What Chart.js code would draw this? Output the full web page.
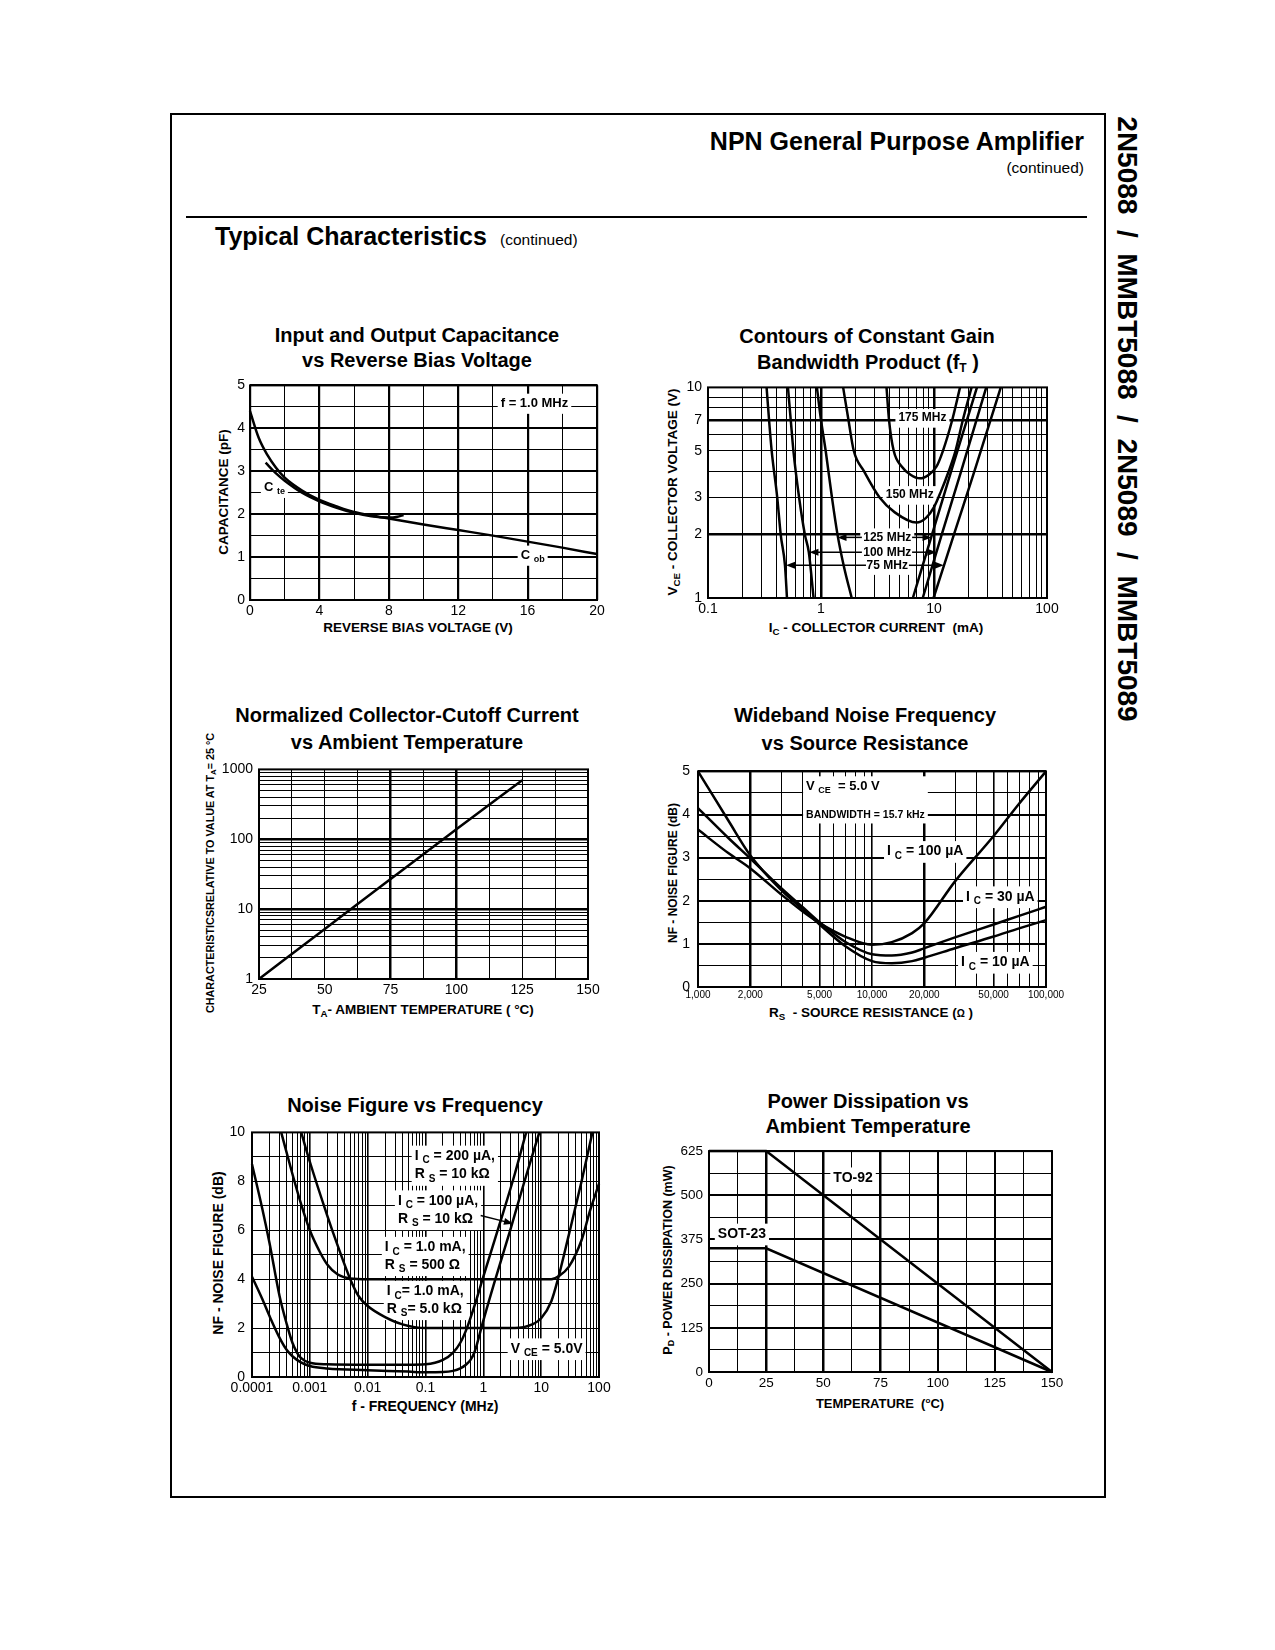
<!DOCTYPE html>
<html>
<head>
<meta charset="utf-8">
<title>2N5088 / MMBT5088 / 2N5089 / MMBT5089 - Typical Characteristics</title>
<script src="https://cdn.jsdelivr.net/npm/chart.js@4.4.1/dist/chart.umd.min.js"></script>
<style>
  html, body { margin: 0; padding: 0; background: #fff; }
  #page { position: relative; width: 1275px; height: 1650px; overflow: hidden;
          font-family: "Liberation Sans", Arial, Helvetica, sans-serif; color: #000; }
  .t { position: absolute; white-space: nowrap; line-height: 1; }
  .t sub { font-size: 0.72em; vertical-align: -0.28em; line-height: 0; }
  .t sup { font-size: 0.62em; vertical-align: 0.5em; line-height: 0; }
  canvas { position: absolute; }
</style>
</head>
<body>
<div id="page">
  <div style="position:absolute;left:170px;top:113px;width:936px;height:1385px;border:2px solid #000;box-sizing:border-box;"></div>
  <div style="position:absolute;left:186px;top:216px;width:901px;height:2px;background:#000;"></div>
</div>
<script>
// ---------------- DATA ----------------

// Input / output capacitance vs reverse bias voltage
const capXTicks = [0, 4, 8, 12, 16, 20];
const capYTicks = [0, 1, 2, 3, 4, 5];
const cobVolts = [0, 0.5, 1, 1.5, 2, 3, 4, 5, 6, 7, 8, 10, 12, 14, 16, 18, 20];
const cobPf    = [4.4, 3.78, 3.38, 3.08, 2.85, 2.55, 2.33, 2.18, 2.05, 1.97, 1.9, 1.76, 1.63, 1.5, 1.36, 1.22, 1.07];
const cteVolts = [0.9, 1.5, 2, 3, 4, 5, 6, 7, 8, 8.5, 8.85];
const ctePf    = [3.2, 2.95, 2.78, 2.5, 2.3, 2.15, 2.03, 1.95, 1.92, 1.94, 1.98];

// Contours of constant gain bandwidth product (Ic mA, Vce V)
const ftXTicks = [0.1, 1, 10, 100];
const ftYTicks = [1, 2, 3, 5, 7, 10];
const ft175Ic  = [3.8, 4.0, 4.4, 5.2, 6.2, 7.5, 9, 10.5, 12, 14.5, 17];
const ft175Vce = [10, 7, 5, 4.2, 3.85, 3.7, 3.85, 4.2, 5, 7, 10];
const ft150Ic  = [1.57, 1.75, 1.95, 2.4, 3.3, 4.5, 7.0, 8.5, 10, 11.5, 13.5, 15.5, 18, 21.5];
const ft150Vce = [10, 7, 5, 4, 3, 2.55, 2.28, 2.4, 2.7, 3.2, 4, 5, 7, 10];
const ft125LeftIc  = [0.92, 1.0, 1.1, 1.25, 1.4, 1.6, 1.87];
const ft125LeftVce = [10, 7, 5, 3, 2, 1.4, 1];
const ft100LeftIc  = [0.51, 0.54, 0.57, 0.64, 0.72, 0.78, 0.86];
const ft100LeftVce = [10, 7, 5, 3, 2, 1.65, 1];
const ft75LeftIc   = [0.33, 0.347, 0.366, 0.41, 0.44, 0.48, 0.5];
const ft75LeftVce  = [10, 7, 5, 3, 2, 1.43, 1];
const ft125RightIc  = [6.5, 9.6, 14.2, 24];
const ft100RightIc  = [7.95, 11.7, 17.4, 29];
const ft75RightIc   = [9.9, 15.0, 22.8, 39];
const ftRightVce    = [1, 2, 4, 10];

// Normalized collector-cutoff current vs ambient temperature
const icboXTicks = [25, 50, 75, 100, 125, 150];
const icboYTicks = [1, 10, 100, 1000];
const icboTemp   = [25, 50, 75, 100, 125];
const icboRatio  = [1, 5.2, 27, 139, 700];

// Wideband noise figure vs source resistance
const wbXTicks  = [1000, 2000, 5000, 10000, 20000, 50000, 100000];
const wbXLabels = ['1,000', '2,000', '5,000', '10,000', '20,000', '50,000', '100,000'];
const wbYTicks  = [0, 1, 2, 3, 4, 5];
const wbRs      = [1000, 1500, 2000, 3000, 4000, 5000, 7000, 10000, 13000, 17000, 20000, 30000, 50000, 70000, 100000];
const wbNf10uA  = [5.0, 3.85, 3.05, 2.25, 1.8, 1.45, 0.95, 0.6, 0.55, 0.6, 0.68, 0.9, 1.17, 1.36, 1.55];
const wbNf30uA  = [4.15, 3.45, 2.98, 2.3, 1.85, 1.5, 1.05, 0.76, 0.73, 0.8, 0.9, 1.15, 1.45, 1.65, 1.86];
const wbNf100uA = [3.65, 3.1, 2.75, 2.15, 1.75, 1.48, 1.17, 0.98, 1.04, 1.25, 1.48, 2.45, 3.5, 4.25, 5.0];

// Noise figure vs frequency (MHz)
const nfXTicks  = [0.0001, 0.001, 0.01, 0.1, 1, 10, 100];
const nfXLabels = ['0.0001', '0.001', '0.01', '0.1', '1', '10', '100'];
const nfYTicks  = [0, 2, 4, 6, 8, 10];
const nf200uAFreq = [0.0001, 0.00015, 0.0002, 0.0003, 0.0004, 0.0005, 0.0006, 0.0007, 0.001, 0.002, 0.01, 0.05, 0.1, 0.2, 0.3, 0.4, 0.52, 0.7, 1, 2, 3.5, 5.5];
const nf200uA     = [8.7, 6.9, 5.5, 3.3, 2.15, 1.4, 1.0, 0.78, 0.58, 0.52, 0.5, 0.5, 0.52, 0.7, 1.0, 1.4, 2.0, 2.9, 4.1, 6.4, 8.3, 10];
const nf100uAFreq = [0.0001, 0.00015, 0.0002, 0.0003, 0.0004, 0.0005, 0.0007, 0.001, 0.002, 0.01, 0.05, 0.1, 0.2, 0.3, 0.4, 0.5, 0.6, 0.7, 0.8, 0.92, 1.5, 3, 5, 9.3];
const nf100uA     = [4.1, 3.2, 2.5, 1.6, 1.1, 0.85, 0.6, 0.45, 0.35, 0.28, 0.22, 0.19, 0.2, 0.25, 0.35, 0.5, 0.7, 1.0, 1.45, 2.0, 3.75, 6.1, 7.9, 10];
const nf1mA500Freq = [0.00032, 0.0005, 0.0007, 0.001, 0.0015, 0.002, 0.003, 0.005, 0.01, 1, 15, 20, 30, 50, 70, 100];
const nf1mA500     = [10, 8.3, 7.1, 6.0, 5.1, 4.6, 4.2, 4.03, 4.0, 4.0, 4.0, 4.12, 4.5, 5.6, 6.8, 7.9];
const nf1mA5kFreq  = [0.00071, 0.001, 0.002, 0.003, 0.005, 0.007, 0.01, 0.02, 0.04, 0.1, 1, 3.5, 7, 10, 15, 19.5, 30, 50, 77];
const nf1mA5k      = [10, 8.8, 6.6, 5.4, 4.0, 3.3, 2.9, 2.45, 2.15, 2.0, 2.0, 2.0, 2.15, 2.4, 3.1, 4.0, 5.8, 8.0, 10];

// Power dissipation vs ambient temperature
const pdXTicks = [0, 25, 50, 75, 100, 125, 150];
const pdYTicks = [0, 125, 250, 375, 500, 625];
const pdTemp   = [0, 25, 150];
const pdTo92   = [625, 625, 0];
const pdSot23  = [350, 350, 0];

// ---------------- HELPERS ----------------
const FONT = '"Liberation Sans", Arial, Helvetica, sans-serif';
const page = document.getElementById('page');
const PL = 60, PT = 12, PR = 30, PB = 28;   // room round each plot area for ticks

const near = (a, b) => Math.abs(a - b) <= Math.abs(b) * 1e-6 + 1e-9;
const inList = (v, list) => list.some(b => near(v, b));

function decadeGrid(lo, hi) {
  const g = [];
  for (let e = lo; e < hi; e++) for (let m = 1; m < 10; m++) g.push(+(m * Math.pow(10, e)).toPrecision(6));
  g.push(+Math.pow(10, hi).toPrecision(6));
  return g;
}
function stepGrid(min, max, step) {
  const g = [];
  for (let v = min; v <= max + 1e-9; v += step) g.push(+v.toFixed(6));
  return g;
}

// html text placed on the page, anchored at its centre (or left / right edge)
function put(html, x, y, size, opt = {}) {
  const d = document.createElement('div');
  d.className = 't';
  d.innerHTML = html;
  d.style.left = x + 'px';
  d.style.top = y + 'px';
  d.style.fontSize = size + 'px';
  d.style.fontWeight = opt.bold === false ? 'normal' : 'bold';
  const tr = { c: 'translate(-50%,-50%)', l: 'translate(0,-50%)', r: 'translate(-100%,-50%)' }[opt.anchor || 'c'];
  d.style.transform = tr + (opt.rot ? ` rotate(${opt.rot}deg)` : '');
  if (opt.ls) d.style.letterSpacing = opt.ls;
  page.appendChild(d);
}

function axis(o) {
  const isX = o.pos === 'x';
  return {
    type: o.type, min: o.min, max: o.max, position: isX ? 'bottom' : 'left',
    afterBuildTicks: s => { s.ticks = o.grid.map(v => ({ value: v })); },
    afterFit: s => { if (isX) s.height = PB; else s.width = PL; },
    grid: { color: '#000', drawTicks: false, lineWidth: c => (c.tick ? o.weight(c.tick.value) : 1) },
    border: { display: false },
    ticks: {
      autoSkip: false, maxRotation: 0, minRotation: 0, padding: o.pad, color: '#000',
      font: { family: FONT, size: o.size },
      callback: v => {
        const i = o.labels.findIndex(l => near(v, l));
        return i < 0 ? '' : (o.text ? o.text[i] : String(o.labels[i]));
      }
    }
  };
}

// a boxed label: one or more lines of [text, isSubscript] parts, on a white box
function drawNote(ctx, px, py, n) {
  const step = n.step || 18;
  const rows = n.lines.map(([parts, size]) => {
    const main = `bold ${size}px ${FONT}`, small = `bold ${Math.round(size * 0.72)}px ${FONT}`;
    let w = 0;
    const segs = parts.map(([s, sub]) => {
      ctx.font = sub ? small : main;
      const pw = ctx.measureText(s).width;
      w += pw;
      return { s, sub, pw, font: sub ? small : main, dy: sub ? size * 0.32 : 0 };
    });
    return { segs, w, size };
  });
  const wMax = Math.max(...rows.map(r => r.w));
  const pad = n.pad ?? 3;
  const s0 = rows[0].size, sN = rows[rows.length - 1].size;
  const left = n.align === 'center' ? px - wMax / 2 : px;
  ctx.fillStyle = '#fff';
  ctx.fillRect(left - pad, py - s0 * 0.75, wMax + pad * 2 + (n.extra || 0),
               (rows.length - 1) * step + s0 * 0.75 + sN * 0.8);
  ctx.fillStyle = '#000';
  ctx.textBaseline = 'middle';
  ctx.textAlign = 'left';
  rows.forEach((r, k) => {
    let x = n.align === 'center' ? px - r.w / 2 : px;
    const y = py + k * step;
    for (const p of r.segs) { ctx.font = p.font; ctx.fillText(p.s, x, y + p.dy); x += p.pw; }
  });
}

function drawArrow(ctx, x1, y1, x2, y2) {
  const a = Math.atan2(y2 - y1, x2 - x1), L = 9, W = 3.5;
  ctx.strokeStyle = '#000'; ctx.fillStyle = '#000'; ctx.lineWidth = 1.5;
  ctx.beginPath(); ctx.moveTo(x1, y1); ctx.lineTo(x2 - L * 0.8 * Math.cos(a), y2 - L * 0.8 * Math.sin(a)); ctx.stroke();
  ctx.beginPath(); ctx.moveTo(x2, y2);
  ctx.lineTo(x2 - L * Math.cos(a) + W * Math.sin(a), y2 - L * Math.sin(a) - W * Math.cos(a));
  ctx.lineTo(x2 - L * Math.cos(a) - W * Math.sin(a), y2 - L * Math.sin(a) + W * Math.cos(a));
  ctx.closePath(); ctx.fill();
}

function annotate(notes, arrows) {
  return {
    id: 'annotate',
    beforeDatasetsDraw(chart) {
      const { ctx } = chart, sx = chart.scales.x, sy = chart.scales.y;
      ctx.save();
      notes.forEach(n => drawNote(ctx, sx.getPixelForValue(n.x), sy.getPixelForValue(n.y), n));
      ctx.restore();
    },
    afterDatasetsDraw(chart) {
      const { ctx, chartArea: a } = chart, sx = chart.scales.x, sy = chart.scales.y;
      ctx.save();
      arrows.forEach(r => drawArrow(ctx, sx.getPixelForValue(r.from[0]), sy.getPixelForValue(r.from[1]),
                                         sx.getPixelForValue(r.to[0]), sy.getPixelForValue(r.to[1])));
      ctx.lineWidth = 2; ctx.strokeStyle = '#000';
      ctx.strokeRect(a.left, a.top, a.right - a.left, a.bottom - a.top);
      ctx.restore();
    }
  };
}

function plot(box, xAxis, yAxis, series, notes = [], arrows = []) {
  const cv = document.createElement('canvas');
  const w = box.r - box.l + PL + PR, h = box.b - box.t + PT + PB;
  cv.width = w; cv.height = h;
  cv.style.left = (box.l - PL) + 'px'; cv.style.top = (box.t - PT) + 'px';
  cv.style.width = w + 'px'; cv.style.height = h + 'px';
  page.appendChild(cv);
  return new Chart(cv.getContext('2d'), {
    type: 'line',
    data: {
      datasets: series.map(([xs, ys, extra]) => Object.assign({
        data: xs.map((x, i) => ({ x, y: ys[i] })),
        borderColor: '#000', borderWidth: 2.5, pointRadius: 0, fill: false,
        cubicInterpolationMode: 'monotone', clip: 2
      }, extra || {}))
    },
    options: {
      responsive: false, animation: false, events: [], devicePixelRatio: 1,
      layout: { padding: { left: 0, top: PT, right: PR, bottom: 0 } },
      plugins: { legend: { display: false }, tooltip: { enabled: false } },
      scales: { x: xAxis, y: yAxis }
    },
    plugins: [annotate(notes, arrows)]
  });
}
const sub = (s) => [s, 1];
const txt = (s) => [s, 0];

// ---------------- PAGE HEADER ----------------
put('NPN General Purpose Amplifier', 1084, 141, 25, { anchor: 'r' });
put('(continued)', 1084, 168, 15.5, { anchor: 'r', bold: false });
put('Typical Characteristics', 215, 236, 25, { anchor: 'l' });
put('(continued)', 500, 240, 15.5, { anchor: 'l', bold: false });
put('2N5088 &nbsp;/ &nbsp;MMBT5088 &nbsp;/ &nbsp;2N5089 &nbsp;/ &nbsp;MMBT5089', 1127, 419, 28, { rot: 90 });

// ---------------- 1: capacitance ----------------
put('Input and Output Capacitance', 417, 335, 20);
put('vs Reverse Bias Voltage', 417, 360, 20);
put('CAPACITANCE (pF)', 224, 492, 13.5, { rot: -90 });
put('REVERSE BIAS VOLTAGE (V)', 418, 628, 13.5);
plot({ l: 250, t: 384, r: 597, b: 600 },
  axis({ pos: 'x', type: 'linear', min: 0, max: 20, grid: stepGrid(0, 20, 2), labels: capXTicks, size: 14, pad: 3,
         weight: v => (v % 4 === 0 ? 2.2 : 1) }),
  axis({ pos: 'y', type: 'linear', min: 0, max: 5, grid: stepGrid(0, 5, 0.5), labels: capYTicks, size: 14, pad: 5,
         weight: v => (Number.isInteger(v) ? 2 : 1) }),
  [[cobVolts, cobPf], [cteVolts, ctePf]],
  [
    { x: 14.45, y: 4.58, lines: [[[txt('f = 1.0 MHz')], 13]] },
    { x: 0.8, y: 2.62, lines: [[[txt('C '), sub('te')], 13]] },
    { x: 15.6, y: 1.04, lines: [[[txt('C '), sub('ob')], 13]] }
  ]);

// ---------------- 2: fT contours ----------------
put('Contours of Constant Gain', 867, 336, 20);
put('Bandwidth Product (f<sub style="font-size:0.6em">T</sub> )', 868, 362, 20);
put('V<sub>CE</sub> - COLLECTOR VOLTAGE (V)', 673, 492, 13.5, { rot: -90 });
put('I<sub>C</sub> - COLLECTOR CURRENT &nbsp;(mA)', 876, 628, 13.5);
plot({ l: 708, t: 385, r: 1047, b: 598 },
  axis({ pos: 'x', type: 'logarithmic', min: 0.1, max: 100, grid: decadeGrid(-1, 2), labels: ftXTicks, size: 14, pad: 3,
         weight: v => (inList(v, [1, 10]) ? 2.5 : 1) }),
  axis({ pos: 'y', type: 'logarithmic', min: 1, max: 10, grid: decadeGrid(0, 1), labels: ftYTicks, size: 14, pad: 6,
         weight: v => (inList(v, [2, 7]) ? 2.5 : 1) }),
  [[ft175Ic, ft175Vce], [ft150Ic, ft150Vce],
   [ft125LeftIc, ft125LeftVce], [ft100LeftIc, ft100LeftVce], [ft75LeftIc, ft75LeftVce],
   [ft125RightIc, ftRightVce], [ft100RightIc, ftRightVce], [ft75RightIc, ftRightVce]],
  [
    { x: 7.9, y: 7.15, lines: [[[txt('175 MHz')], 12]], align: 'center' },
    { x: 6.1, y: 3.08, lines: [[[txt('150 MHz')], 12]], align: 'center' },
    { x: 3.86, y: 1.94, lines: [[[txt('125 MHz')], 12]], align: 'center' },
    { x: 3.86, y: 1.65, lines: [[[txt('100 MHz')], 12]], align: 'center' },
    { x: 3.86, y: 1.43, lines: [[[txt('75 MHz')], 12]], align: 'center' }
  ],
  [
    { from: [2.3, 1.94], to: [1.4, 1.94] }, { from: [6.4, 1.94], to: [9.5, 1.94] },
    { from: [2.3, 1.65], to: [0.79, 1.65] }, { from: [6.4, 1.65], to: [10.5, 1.65] },
    { from: [2.5, 1.43], to: [0.49, 1.43] }, { from: [6.0, 1.43], to: [12.2, 1.43] }
  ]);

// ---------------- 3: collector-cutoff current ----------------
put('Normalized Collector-Cutoff Current', 407, 715, 20);
put('vs Ambient Temperature', 407, 742, 20);
put('CHARACTERISTICSRELATIVE TO VALUE AT T<sub>A</sub>= 25 °C', 210, 873, 10.8, { rot: -90 });
put('T<sub>A</sub>- AMBIENT TEMPERATURE ( °C)', 423, 1010, 13.5);
plot({ l: 259, t: 767, r: 588, b: 979 },
  axis({ pos: 'x', type: 'linear', min: 25, max: 150, grid: stepGrid(25, 150, 12.5), labels: icboXTicks, size: 14, pad: 3,
         weight: v => (inList(v, [75, 100]) ? 2.5 : 1) }),
  axis({ pos: 'y', type: 'logarithmic', min: 1, max: 1000, grid: decadeGrid(0, 3), labels: icboYTicks, size: 14, pad: 6,
         weight: v => (inList(v, [10, 100]) ? 2.5 : 1) }),
  [[icboTemp, icboRatio]]);

// ---------------- 4: wideband noise ----------------
put('Wideband Noise Frequency', 865, 715, 20);
put('vs Source Resistance', 865, 743, 20);
put('NF - NOISE FIGURE (dB)', 673, 873, 12, { rot: -90 });
put('R<sub>S</sub> &nbsp;- SOURCE RESISTANCE (<span style="font-size:0.75em">Ω</span> )', 871, 1013, 13.5);
plot({ l: 698, t: 767, r: 1046, b: 987 },
  axis({ pos: 'x', type: 'logarithmic', min: 1000, max: 100000, grid: decadeGrid(3, 5), labels: wbXTicks, text: wbXLabels, size: 10, pad: 2,
         weight: v => (inList(v, [2000, 20000]) ? 2.5 : inList(v, [5000, 10000, 50000]) ? 1.6 : 1) }),
  axis({ pos: 'y', type: 'linear', min: 0, max: 5, grid: stepGrid(0, 5, 0.5), labels: wbYTicks, size: 14, pad: 8,
         weight: v => (Number.isInteger(v) ? 2 : 1) }),
  [[wbRs, wbNf10uA], [wbRs, wbNf30uA], [wbRs, wbNf100uA]],
  [
    { x: 4180, y: 4.66, step: 29, lines: [[[txt('V '), sub('CE'), txt('  = 5.0 V')], 13], [[txt('BANDWIDTH = 15.7 kHz')], 10.5]] },
    { x: 12200, y: 3.14, lines: [[[txt('I '), sub('C'), txt(' = 100 µA')], 14]] },
    { x: 34700, y: 2.09, lines: [[[txt('I '), sub('C'), txt(' = 30 µA')], 14]] },
    { x: 32500, y: 0.57, lines: [[[txt('I '), sub('C'), txt(' = 10 µA')], 14]] }
  ]);

// ---------------- 5: noise figure vs frequency ----------------
put('Noise Figure vs Frequency', 415, 1105, 20);
put('NF - NOISE FIGURE (dB)', 218, 1253, 14, { rot: -90 });
put('f - FREQUENCY (MHz)', 425, 1406, 14);
plot({ l: 252, t: 1129, r: 599, b: 1377 },
  axis({ pos: 'x', type: 'logarithmic', min: 0.0001, max: 100, grid: decadeGrid(-4, 2), labels: nfXTicks, text: nfXLabels, size: 14, pad: 3,
         weight: v => (inList(v, nfXTicks) ? 1.6 : 1) }),
  axis({ pos: 'y', type: 'linear', min: 0, max: 10, grid: stepGrid(0, 10, 1), labels: nfYTicks, size: 14, pad: 7,
         weight: () => 1 }),
  [[nf200uAFreq, nf200uA], [nf100uAFreq, nf100uA], [nf1mA500Freq, nf1mA500], [nf1mA5kFreq, nf1mA5k]],
  [
    { x: 0.065, y: 9.03, step: 18.5, lines: [[[txt('I '), sub('C'), txt(' = 200 µA,')], 14], [[txt('R '), sub('S'), txt(' = 10 kΩ')], 14]] },
    { x: 0.0333, y: 7.2, step: 18, lines: [[[txt('I '), sub('C'), txt(' = 100 µA,')], 14], [[txt('R '), sub('S'), txt(' = 10 kΩ')], 14]] },
    { x: 0.0198, y: 5.3, step: 17.5, lines: [[[txt('I '), sub('C'), txt(' = 1.0 mA,')], 14], [[txt('R '), sub('S'), txt(' = 500 Ω')], 14]] },
    { x: 0.0214, y: 3.5, step: 17.5, lines: [[[txt('I '), sub('C'), txt('= 1.0 mA,')], 14], [[txt('R '), sub('S'), txt('= 5.0 kΩ')], 14]] },
    { x: 2.97, y: 1.15, lines: [[[txt('V '), sub('CE'), txt(' = 5.0V')], 14]] }
  ],
  [{ from: [0.9, 6.6], to: [3.25, 6.27] }]);

// ---------------- 6: power dissipation ----------------
put('Power Dissipation vs', 868, 1101, 20);
put('Ambient Temperature', 868, 1126, 20);
put('P<sub>D</sub> - POWER DISSIPATION (mW)', 668, 1260, 12.5, { rot: -90 });
put('TEMPERATURE &nbsp;(<sup>o</sup>C)', 880, 1403, 13);
plot({ l: 709, t: 1149, r: 1052, b: 1372 },
  axis({ pos: 'x', type: 'linear', min: 0, max: 150, grid: stepGrid(0, 150, 12.5), labels: pdXTicks, size: 13.5, pad: 3,
         weight: v => (inList(v, [25, 50, 75]) ? 2.5 : inList(v, [100, 125]) ? 2 : 1) }),
  axis({ pos: 'y', type: 'linear', min: 0, max: 625, grid: stepGrid(0, 625, 62.5), labels: pdYTicks, size: 13.5, pad: 6,
         weight: v => (v % 125 === 0 ? 2 : 1) }),
  [[pdTemp, pdTo92, { cubicInterpolationMode: 'default', tension: 0 }],
   [pdTemp, pdSot23, { cubicInterpolationMode: 'default', tension: 0 }]],
  [
    { x: 63, y: 549, lines: [[[txt('TO-92')], 14]], align: 'center' },
    { x: 14.4, y: 390, lines: [[[txt('SOT-23')], 14]], align: 'center' }
  ]);
</script>
</body>
</html>
